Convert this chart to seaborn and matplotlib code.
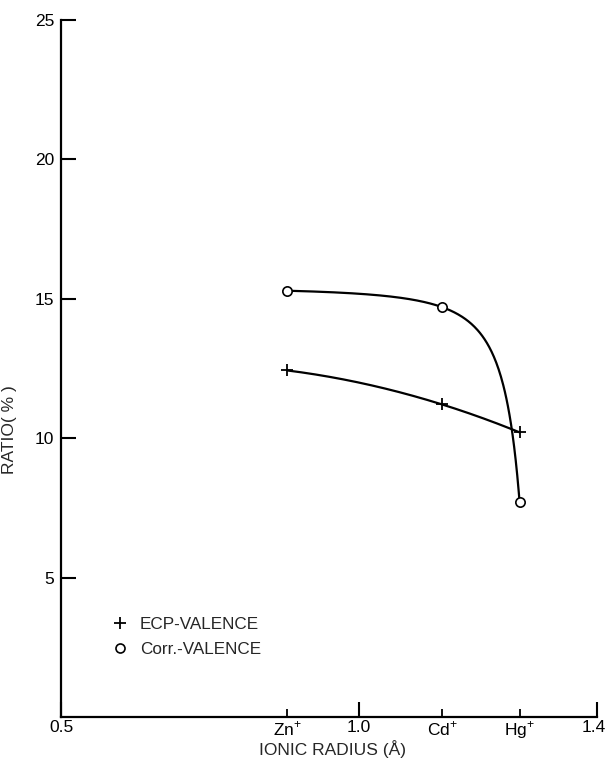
import numpy as np
import pandas as pd
import matplotlib
matplotlib.use("Agg")
import matplotlib.pyplot as plt
from matplotlib.lines import Line2D
from matplotlib import transforms
import seaborn as sns

# ---- data ----
ion_labels = [r"Zn$^{+}$", r"Cd$^{+}$", r"Hg$^{+}$"]
ion_radius = [0.88, 1.14, 1.27]
ecp_valence = [12.43, 11.21, 10.21]
corr_valence = [15.29, 14.70, 7.71]
major_ticks = [0.5, 1.0, 1.4]
major_labels = ["0.5", "1.0", "1.4"]
y_ticks = [5, 10, 15, 20, 25]
legend_labels = ["ECP-VALENCE", "Corr.-VALENCE"]

sns.set_style("ticks")
plt.rcParams["font.family"] = ["Liberation Sans", "DejaVu Sans"]
plt.rcParams["mathtext.fontset"] = "custom"
plt.rcParams["mathtext.rm"] = "Liberation Sans"

fig = plt.figure(figsize=(6.08, 7.61), dpi=100)
ax = fig.add_axes([61 / 608, 44 / 761, 536 / 608, 697 / 761])

x = np.array(ion_radius)
xs = np.linspace(x[0], x[-1], 300)

# smooth curve for ECP-VALENCE: quadratic through the three points
pq = np.polyfit(x, ecp_valence, 2)
ecp_curve = np.polyval(pq, xs)

# smooth curve for Corr-VALENCE: y = A - B/(c-x)^2 through the three points
yc = np.array(corr_valence)
target = (yc[1] - yc[2]) / (yc[0] - yc[1])
def f(c, xx):
    return 1.0 / (c - xx) ** 2
def ratio(c):
    return (f(c, x[2]) - f(c, x[1])) / (f(c, x[1]) - f(c, x[0]))
lo, hi = x[2] + 1e-4, x[2] + 2.0
for _ in range(200):
    mid = 0.5 * (lo + hi)
    if ratio(mid) > target:
        lo = mid
    else:
        hi = mid
c = 0.5 * (lo + hi)
B = (yc[1] - yc[2]) / (f(c, x[2]) - f(c, x[1]))
A = yc[0] + B * f(c, x[0])
corr_curve = A - B * f(c, xs)

curves = pd.DataFrame({"x": np.concatenate([xs, xs]),
                       "y": np.concatenate([ecp_curve, corr_curve]),
                       "series": ["ECP"] * len(xs) + ["Corr"] * len(xs)})
sns.lineplot(data=curves, x="x", y="y", units="series", estimator=None,
             color="black", lw=1.6, sort=False, ax=ax, legend=False)

pts_ecp = pd.DataFrame({"x": ion_radius, "y": ecp_valence})
pts_corr = pd.DataFrame({"x": ion_radius, "y": corr_valence})
sns.scatterplot(data=pts_ecp, x="x", y="y", marker="+", s=70, color="black",
                linewidth=1.3, ax=ax, zorder=5)
sns.scatterplot(data=pts_corr, x="x", y="y", marker="o", s=45, facecolor="white",
                edgecolor="black", linewidth=1.2, ax=ax, zorder=6)

ax.set_xlim(0.5, 1.4)
ax.set_ylim(0, 25)

ax.set_xticks(major_ticks)
ax.set_xticklabels(major_labels)
ax.set_xticks(ion_radius, minor=True)
ax.set_xticklabels(ion_labels, minor=True)
ax.set_yticks(y_ticks)
ax.set_yticklabels([str(v) for v in y_ticks])

ax.tick_params(axis="x", which="major", direction="in", length=11, width=1.5,
               labelsize=12.5, pad=2, colors="black")
ax.tick_params(axis="x", which="minor", direction="in", length=6, width=1.3,
               labelsize=12.5, pad=2, colors="black")
ax.tick_params(axis="y", which="major", direction="in", length=11, width=1.5,
               labelsize=12.5, pad=5, colors="black")

# nudge the last x label so it stays inside the figure
last = ax.get_xticklabels()[-1]
last.set_transform(last.get_transform() +
                   transforms.ScaledTranslation(-3 / 100, 0, fig.dpi_scale_trans))

sns.despine(ax=ax)
for s in ["left", "bottom"]:
    ax.spines[s].set_linewidth(1.6)
    ax.spines[s].set_color("black")

ax.set_xlabel("IONIC RADIUS (Å)", fontsize=12.5)
ax.xaxis.label.set_va("center")
ax.xaxis.set_label_coords(0.507, -0.0455)
ax.set_ylabel("RATIO( % )", fontsize=12.5)
ax.yaxis.set_label_coords(-0.082, 0.412)

handles = [Line2D([], [], marker="+", color="black", ls="none", markersize=8, mew=1.3),
           Line2D([], [], marker="o", markerfacecolor="white", markeredgecolor="black",
                  ls="none", markersize=6.5, mew=1.2)]
ax.legend(handles, legend_labels, frameon=False,
          loc="center left", bbox_to_anchor=(0.0775, 0.115), fontsize=12.3,
          handlelength=1.0, handletextpad=0.7, labelspacing=0.55, borderpad=0)

fig.savefig("out.png", dpi=100)
